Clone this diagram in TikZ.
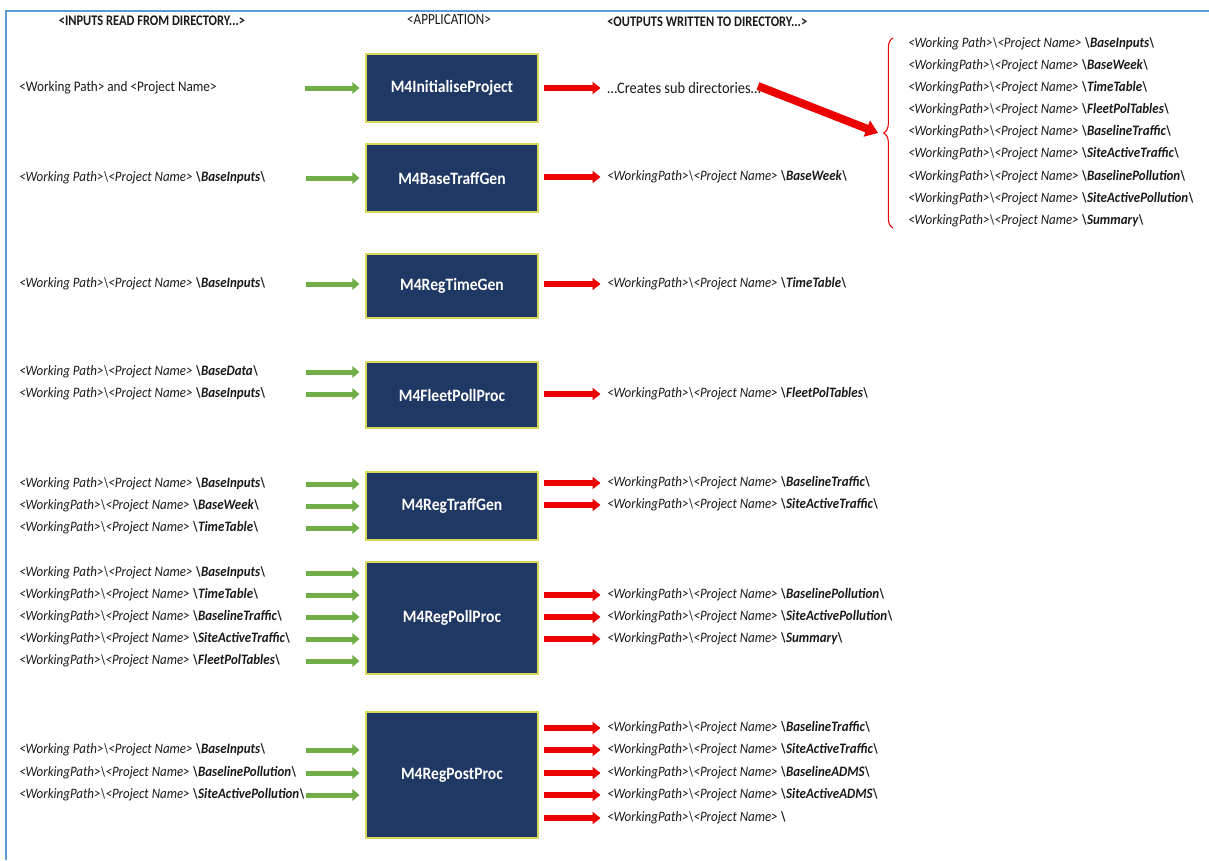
\documentclass[tikz,border=0pt]{standalone}
\usepackage{fontspec}
\setmainfont{Carlito}[FakeStretch=0.9]
\newfontfamily\hdrfont{Carlito}[FakeStretch=0.85]
\usetikzlibrary{arrows.meta,calc,decorations.pathreplacing}
\definecolor{boxblue}{RGB}{32,56,100}
\definecolor{boxedge}{RGB}{215,215,90}
\definecolor{frameblue}{RGB}{91,155,213}
\definecolor{ingreen}{RGB}{112,173,71}
\definecolor{outred}{RGB}{236,0,0}
\definecolor{txtgray}{RGB}{25,25,25}
\newcommand{\dirtxt}[2]{\textit{<#1>\textbackslash<Project Name> \textbf{\textbackslash#2\textbackslash}}}
\tikzset{
    app/.style={draw=boxedge, line width=0.8pt, fill=boxblue, text=white,
        font=\fontsize{13}{15}\selectfont\bfseries, minimum width=129pt, inner sep=0pt},
    dirtext/.style={anchor=west, inner sep=0pt, text=txtgray, font=\fontsize{10.8}{12}\selectfont},
    hdr/.style={inner sep=0pt, text=txtgray, font=\hdrfont\bfseries\fontsize{11}{12}\selectfont},
    inarrow/.style={ingreen, line width=3.75pt, -{Triangle[length=5.25pt,width=8.5pt]}},
    outarrow/.style={outred, line width=4.5pt, -{Triangle[length=6pt,width=9pt]}},
    bigarrow/.style={outred, line width=6pt, -{Triangle[length=9pt,width=12.5pt]}}
}
\begin{document}
\begin{tikzpicture}[x=0.75pt, y=-0.75pt]
    \useasboundingbox (0,0) rectangle (1209,860);
    \draw[frameblue, line width=1.5pt] (6,860) -- (6,11) -- (1209,11);

    % column headers
    \node[hdr] (hin) at (152,21) {<INPUTS READ FROM DIRECTORY...>};
    \node[hdr, font=\hdrfont\fontsize{11.6}{12}\selectfont] (happ) at (449,20) {<APPLICATION>};
    \node[hdr, anchor=west] (hout) at (607,22) {<OUTPUTS WRITTEN TO DIRECTORY...>};

    % applications
    \node[app, minimum height=51pt] (b1) at (452,88) {M4InitialiseProject};
    \node[app, minimum height=51pt] (b2) at (452,178) {M4BaseTraffGen};
    \node[app, minimum height=48pt] (b3) at (452,286) {M4RegTimeGen};
    \node[app, minimum height=49.5pt] (b4) at (452,395) {M4FleetPollProc};
    \node[app, minimum height=51pt] (b5) at (452,506) {M4RegTraffGen};
    \node[app, minimum height=84pt] (b6) at (452,618) {M4RegPollProc};
    \node[app, minimum height=94.5pt] (b7) at (452,775) {M4RegPostProc};

    % first row
    \node[dirtext, font=\fontsize{11}{12}\selectfont] (i11) at (19,88) {<Working Path> and <Project Name>};
    \draw[inarrow] ($(b1.west |- i11)+(-60,0)$) -- ($(b1.west |- i11)+(-6,0)$);
    \node[dirtext, font=\fontsize{12}{13}\selectfont] (o11) at (607,88) {…Creates sub directories…};
    \draw[outarrow] ($(b1.east |- o11)+(5,0)$) -- ($(b1.east |- o11)+(62,0)$);

    % sub directories
    \coordinate (btop) at (893,38);
    \coordinate (bbot) at (893,228);
    \coordinate (btip) at (878,133);
    \draw[outred, line width=0.8pt, decorate, decoration={brace, amplitude=7pt}] (bbot) -- (btop);
    \draw[bigarrow] ($(o11.east)+(-3,-2)$) -- (btip);
    \foreach \nm/\y/\wp/\fd in {
        s1/44/Working Path/BaseInputs, s2/66/WorkingPath/BaseWeek,
        s3/88/WorkingPath/TimeTable, s4/110/WorkingPath/FleetPolTables,
        s5/132/WorkingPath/BaselineTraffic, s6/154/WorkingPath/SiteActiveTraffic,
        s7/177/WorkingPath/BaselinePollution, s8/199/WorkingPath/SiteActivePollution,
        s9/221/WorkingPath/Summary}
    {
        \node[dirtext] (\nm) at (908,\y) {\dirtxt{\wp}{\fd}};
    }

    % inputs
    \foreach \nm/\y/\wp/\fd/\bx in {
        i21/178/Working Path/BaseInputs/b2,
        i31/284/Working Path/BaseInputs/b3,
        i41/372/Working Path/BaseData/b4, i42/394/Working Path/BaseInputs/b4,
        i51/484/Working Path/BaseInputs/b5, i52/506/WorkingPath/BaseWeek/b5,
        i53/528/WorkingPath/TimeTable/b5,
        i61/573/Working Path/BaseInputs/b6, i62/595/WorkingPath/TimeTable/b6,
        i63/617/WorkingPath/BaselineTraffic/b6, i64/639/WorkingPath/SiteActiveTraffic/b6,
        i65/661/WorkingPath/FleetPolTables/b6,
        i71/750/Working Path/BaseInputs/b7, i72/773/WorkingPath/BaselinePollution/b7,
        i73/795/WorkingPath/SiteActivePollution/b7}
    {
        \node[dirtext] (\nm) at (19,\y) {\dirtxt{\wp}{\fd}};
        \draw[inarrow] ($(\bx.west |- \nm)+(-59,0)$) -- ($(\bx.west |- \nm)+(-6,0)$);
    }

    % outputs
    \foreach \nm/\y/\fd/\bx in {
        o21/177/BaseWeek/b2,
        o31/284/TimeTable/b3,
        o41/394/FleetPolTables/b4,
        o51/483/BaselineTraffic/b5, o52/505/SiteActiveTraffic/b5,
        o61/595/BaselinePollution/b6, o62/617/SiteActivePollution/b6, o63/639/Summary/b6,
        o71/728/BaselineTraffic/b7, o72/750/SiteActiveTraffic/b7, o73/773/BaselineADMS/b7,
        o74/795/SiteActiveADMS/b7}
    {
        \node[dirtext] (\nm) at (607,\y) {\dirtxt{WorkingPath}{\fd}};
        \draw[outarrow] ($(\bx.east |- \nm)+(5,0)$) -- ($(\bx.east |- \nm)+(62,0)$);
    }
    \node[dirtext] (o75) at (607,818) {\textit{<WorkingPath>\textbackslash<Project Name> \textbf{\textbackslash}}};
    \draw[outarrow] ($(b7.east |- o75)+(5,0)$) -- ($(b7.east |- o75)+(62,0)$);
\end{tikzpicture}
\end{document}
